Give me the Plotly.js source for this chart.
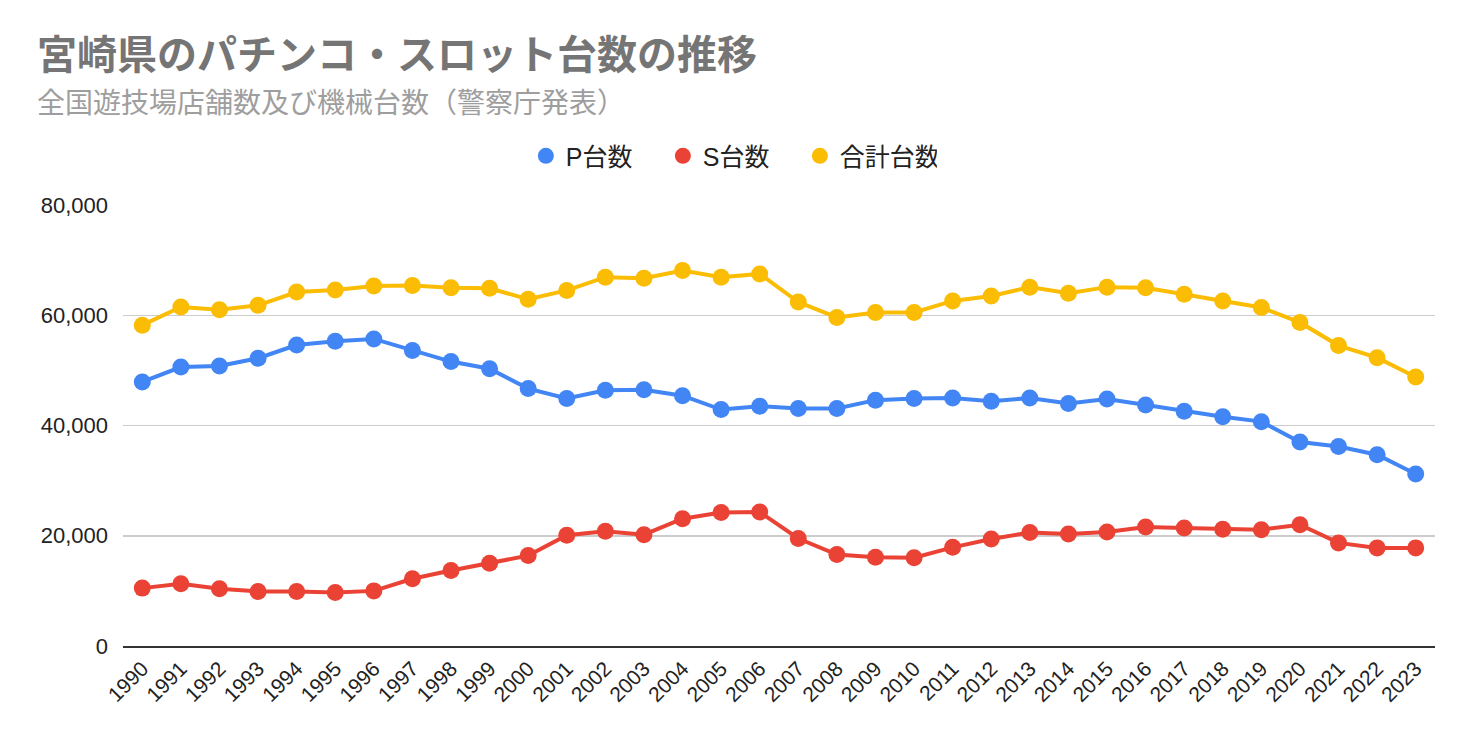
<!DOCTYPE html>
<html>
<head>
<meta charset="utf-8">
<script src="https://cdn.plot.ly/plotly-3.0.1.min.js"></script>
<style>
html,body{margin:0;padding:0;background:#fff;}
#chart{width:1472px;height:742px;}
.legend .js-line{display:none;}
</style>
</head>
<body>
<div id="chart"></div>
<script>
const years = ["1990","1991","1992","1993","1994","1995","1996","1997","1998","1999","2000","2001","2002","2003","2004","2005","2006","2007","2008","2009","2010","2011","2012","2013","2014","2015","2016","2017","2018","2019","2020","2021","2022","2023"];
const pUnits = [47900,50600,50800,52200,54600,55300,55700,53600,51600,50300,46700,44900,46400,46500,45400,42900,43500,43100,43100,44600,44900,45000,44400,45000,44000,44800,43700,42600,41600,40700,37000,36200,34700,31200];
const sUnits = [10500,11300,10400,9900,9900,9700,10000,12200,13700,15000,16400,20100,20800,20200,23100,24200,24300,19500,16600,16100,16000,17900,19400,20600,20300,20700,21600,21400,21200,21100,22000,18700,17800,17800];
const totalUnits = [58200,61500,61000,61800,64200,64600,65300,65400,65000,64900,62900,64500,66900,66700,68100,66900,67500,62400,59600,60500,60500,62600,63500,65100,64000,65100,65000,63800,62600,61400,58700,54500,52300,48800];
const seriesNames = ["P台数","S台数","合計台数"];
const seriesColors = ["#4285F4","#EA4335","#FBBC04"];
const titleText = "宮崎県のパチンコ・スロット台数の推移";
const subtitleText = "全国遊技場店舗数及び機械台数（警察庁発表）";

const seriesValues = [pUnits, sUnits, totalUnits];
const traces = seriesValues.map((vals, i) => ({
  type: "scatter",
  mode: "lines+markers",
  x: years,
  y: vals,
  name: seriesNames[i],
  line: {color: seriesColors[i], width: 4},
  marker: {color: seriesColors[i], size: 17},
  hoverinfo: "x+y"
}));

const cjk = "Roboto, Arial, 'Noto Sans CJK JP', sans-serif";
const layout = {
  width: 1472,
  height: 742,
  margin: {l: 123, r: 37, t: 205, b: 96},
  paper_bgcolor: "#ffffff",
  plot_bgcolor: "#ffffff",
  font: {family: "'Liberation Sans', Arial, 'Noto Sans CJK JP', sans-serif", color: "#222222", size: 18},
  showlegend: true,
  legend: {
    orientation: "h",
    x: 0.4637, xanchor: "center",
    y: 1.111, yanchor: "middle",
    font: {size: 25, color: "#222222", family: "'Liberation Sans', Arial, 'Noto Sans CJK JP', sans-serif"},
    itemsizing: "trace",
    entrywidth: 92,
    entrywidthmode: "pixels",
    traceorder: "normal"
  },
  xaxis: {
    type: "category",
    range: [-0.5, 33.5],
    tickangle: -45,
    tickfont: {size: 21, color: "#222222"},
    showgrid: false,
    showline: true,
    linecolor: "#333333",
    linewidth: 2,
    ticks: "",
    fixedrange: true
  },
  yaxis: {
    range: [0, 80000],
    tickvals: [0, 20000, 40000, 60000, 80000],
    ticktext: ["0","20,000","40,000","60,000","80,000"],
    tickfont: {size: 22, color: "#222222"},
    showgrid: true,
    gridcolor: "#cccccc",
    gridwidth: 1.5,
    zeroline: false,
    showline: false,
    ticks: "",
    ticklabelstandoff: 14,
    fixedrange: true
  },
  annotations: [
    {
      text: "<b>" + titleText + "</b>",
      xref: "paper", yref: "paper",
      x: (35 - 123) / 1312, xanchor: "left",
      y: (646 - 55) / 441, yanchor: "middle",
      showarrow: false,
      font: {size: 40, color: "#757575", family: cjk}
    },
    {
      text: subtitleText,
      xref: "paper", yref: "paper",
      x: (35 - 123) / 1312, xanchor: "left",
      y: (646 - 104) / 441, yanchor: "middle",
      showarrow: false,
      font: {size: 28, color: "#9e9e9e", family: cjk}
    }
  ]
};

Plotly.newPlot("chart", traces, layout, {displayModeBar: false, staticPlot: true});
</script>
</body>
</html>
